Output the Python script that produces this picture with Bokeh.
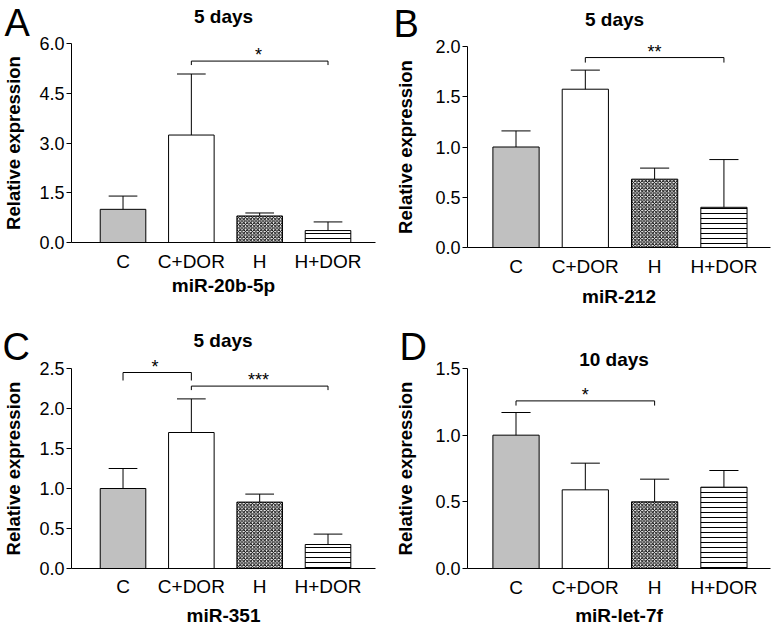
from bokeh.plotting import figure
from bokeh.models import FixedTicker, Range1d, PrintfTickFormatter, ColumnDataSource, GridBox
from bokeh.core.properties import value
from bokeh.layouts import row, column
from bokeh.embed import file_html
from bokeh.resources import INLINE

# ---------------- data ----------------
categories = ["C", "C+DOR", "H", "H+DOR"]
positions = [1, 2, 3, 4]
ylabel_text = "Relative expression"
panel_letters = ["A", "B", "C", "D"]
panel_titles = ["5 days", "5 days", "5 days", "10 days"]
panel_genes = ["miR-20b-5p", "miR-212", "miR-351", "miR-let-7f"]

# Panel A
a_mean = [1.00, 3.24, 0.80, 0.36]
a_sem = [0.40, 1.84, 0.09, 0.26]
a_yticks = [0.0, 1.5, 3.0, 4.5, 6.0]
a_sig_from = [2]
a_sig_to = [4]
a_sig_y = [5.47]
a_sig_drop = [0.12]
a_sig_text = ["*"]

# Panel B
b_mean = [1.00, 1.575, 0.68, 0.40]
b_sem = [0.16, 0.19, 0.11, 0.475]
b_yticks = [0.0, 0.5, 1.0, 1.5, 2.0]
b_sig_from = [2]
b_sig_to = [4]
b_sig_y = [1.89]
b_sig_drop = [0.05]
b_sig_text = ["**"]

# Panel C
c_mean = [1.00, 1.70, 0.83, 0.30]
c_sem = [0.25, 0.42, 0.10, 0.13]
c_yticks = [0.0, 0.5, 1.0, 1.5, 2.0, 2.5]
c_sig_from = [1, 2]
c_sig_to = [2, 4]
c_sig_y = [2.45, 2.28]
c_sig_drop = [0.10, 0.05]
c_sig_text = ["*", "***"]

# Panel D
d_mean = [1.00, 0.59, 0.50, 0.61]
d_sem = [0.17, 0.20, 0.17, 0.125]
d_yticks = [0.0, 0.5, 1.0, 1.5]
d_sig_from = [1]
d_sig_to = [3]
d_sig_y = [1.257]
d_sig_drop = [0.035]
d_sig_text = ["*"]

# ---------------- styles / layout ----------------
FONT = "Liberation Sans"
BAR_FILL = ["#c0c0c0", "white", "white", "white"]
BAR_HATCH = ["blank", "blank", "diagonal_cross", "horizontal_line"]
BAR_HATCH_SCALE = [1, 1, 3.5, 5]
BAR_WIDTH = 0.667
CAP_HALF = 0.21
TOTAL_W, TOTAL_H = 774, 629
STAR_LIFT = 6

# geometry per panel: origin on page, size, frame edges (figure px), x range
GEOM = [
    dict(ox=0, oy=0, W=388, H=314, fl=68, fr=375, ft=43, fb=242, x0=0.246, x1=4.695,
         ylab_so=12, xtick_so=8, xlab_so=0,
         title_xy=(223, 16), letter_xy=(4, 22)),
    dict(ox=388, oy=0, W=386, H=314, fl=79, fr=382, ft=46, fb=247, x0=0.30, x1=4.672,
         ylab_so=16, xtick_so=8, xlab_so=6,
         title_xy=(614, 19), letter_xy=(393, 23)),
    dict(ox=0, oy=314, W=388, H=315, fl=68, fr=375, ft=54, fb=254, x0=0.246, x1=4.695,
         ylab_so=12, xtick_so=7, xlab_so=5,
         title_xy=(222.5, 340), letter_xy=(2, 346)),
    dict(ox=388, oy=314, W=386, H=315, fl=79, fr=382, ft=54, fb=254, x0=0.30, x1=4.672,
         ylab_so=16, xtick_so=8, xlab_so=4,
         title_xy=(613.5, 359), letter_xy=(399, 346)),
]


def make_panel(g, gene, mean, sem, yticks, sf, st, sy, sd):
    ytop = yticks[-1]
    W, H, fl, fr, ft, fb = g["W"], g["H"], g["fl"], g["fr"], g["ft"], g["fb"]
    p = figure(width=W, height=H, x_range=Range1d(g["x0"], g["x1"]),
               y_range=Range1d(0, ytop),
               output_backend="svg", toolbar_location=None,
               min_border_left=fl, min_border_right=W - fr,
               min_border_top=ft, min_border_bottom=H - fb)
    p.title.visible = False
    p.outline_line_color = None
    p.xgrid.visible = False
    p.ygrid.visible = False
    p.background_fill_color = "white"
    p.border_fill_color = "white"

    src = ColumnDataSource(dict(x=positions, top=mean, fill=BAR_FILL,
                                hatch=BAR_HATCH, hscale=BAR_HATCH_SCALE))
    p.vbar(x="x", top="top", bottom=0, width=BAR_WIDTH, source=src,
           fill_color="fill", line_color="black", line_width=1,
           hatch_pattern="hatch", hatch_scale="hscale", hatch_color="black",
           hatch_weight=1)

    tops = [m + e for m, e in zip(mean, sem)]
    p.segment(x0=positions, y0=mean, x1=positions, y1=tops, line_color="black", line_width=1)
    p.segment(x0=[x - CAP_HALF for x in positions], y0=tops,
              x1=[x + CAP_HALF for x in positions], y1=tops,
              line_color="black", line_width=1)

    xs = [[a, a, b, b] for a, b in zip(sf, st)]
    ys = [[y - d, y, y, y - d] for y, d in zip(sy, sd)]
    p.multi_line(xs=xs, ys=ys, line_color="black", line_width=1)

    for ax in (p.xaxis[0], p.yaxis[0]):
        ax.axis_line_color = "black"
        ax.axis_line_width = 1
        ax.major_label_text_color = "black"
        ax.major_label_text_font = FONT
        ax.axis_label_text_font = FONT
        ax.axis_label_text_font_style = "bold"
        ax.axis_label_text_color = "black"
        ax.minor_tick_line_color = None

    p.yaxis.ticker = FixedTicker(ticks=yticks)
    p.yaxis.formatter = PrintfTickFormatter(format="%.1f")
    p.yaxis.major_label_text_font_size = "18px"
    p.yaxis.major_tick_out = 5
    p.yaxis.major_tick_in = 0
    p.yaxis.major_tick_line_color = "black"
    p.yaxis.major_label_standoff = 2
    p.yaxis.axis_label = ylabel_text
    p.yaxis.axis_label_text_font_size = "18.5px"
    p.yaxis.axis_label_standoff = g["ylab_so"]

    p.xaxis.ticker = FixedTicker(ticks=positions)
    p.xaxis.major_label_overrides = {x: c for x, c in zip(positions, categories)}
    p.xaxis.major_label_text_font_size = "19px"
    p.xaxis.major_tick_out = 0
    p.xaxis.major_tick_in = 0
    p.xaxis.major_tick_line_color = None
    p.xaxis.major_label_standoff = g["xtick_so"]
    p.xaxis.axis_label = gene
    p.xaxis.axis_label_text_font_size = "19px"
    p.xaxis.axis_label_standoff = g["xlab_so"]
    return p


def page_xy(g, ytop, xv, yv):
    px = g["ox"] + g["fl"] + (xv - g["x0"]) / (g["x1"] - g["x0"]) * (g["fr"] - g["fl"])
    py = g["oy"] + g["fb"] - yv / ytop * (g["fb"] - g["ft"])
    return px, py


panels_data = [
    (a_mean, a_sem, a_yticks, a_sig_from, a_sig_to, a_sig_y, a_sig_drop, a_sig_text),
    (b_mean, b_sem, b_yticks, b_sig_from, b_sig_to, b_sig_y, b_sig_drop, b_sig_text),
    (c_mean, c_sem, c_yticks, c_sig_from, c_sig_to, c_sig_y, c_sig_drop, c_sig_text),
    (d_mean, d_sem, d_yticks, d_sig_from, d_sig_to, d_sig_y, d_sig_drop, d_sig_text),
]

figs = []
star_x, star_y, star_t = [], [], []
for g, gene, (mean, sem, yt, sf, st, sy, sd, stx) in zip(GEOM, panel_genes, panels_data):
    figs.append(make_panel(g, gene, mean, sem, yt, sf, st, sy, sd))
    for a, b, y, t in zip(sf, st, sy, stx):
        px, py = page_xy(g, yt[-1], (a + b) / 2, y)
        star_x.append(px)
        star_y.append(py - STAR_LIFT)
        star_t.append(t)

# transparent overlay carrying the texts that sit outside the plot frames
ov = figure(width=TOTAL_W, height=TOTAL_H, x_range=Range1d(0, TOTAL_W),
            y_range=Range1d(TOTAL_H, 0), output_backend="svg", toolbar_location=None,
            x_axis_location=None, y_axis_location=None, min_border=0)
ov.title.visible = False
ov.outline_line_color = None
ov.xgrid.visible = False
ov.ygrid.visible = False
ov.background_fill_color = None
ov.border_fill_color = None

ov.text(x=[g["title_xy"][0] for g in GEOM], y=[g["title_xy"][1] for g in GEOM],
        text=panel_titles, text_font=value(FONT), text_font_size="19px",
        text_font_style="bold", text_align="center", text_baseline="alphabetic",
        text_color="black")
ov.text(x=[g["letter_xy"][0] for g in GEOM], y=[g["letter_xy"][1] for g in GEOM],
        text=panel_letters, text_font=value(FONT), text_font_size="38px",
        text_align="left", text_baseline="alphabetic", text_color="black")
ov.text(x=star_x, y=star_y, text=star_t, text_font=value(FONT), text_font_size="18px",
        text_align="center", text_baseline="alphabetic", text_color="black")

# columns (not rows) so that the left/right panels keep their own vertical frames
main = row(column(figs[0], figs[2]), column(figs[1], figs[3]))
layout = GridBox(children=[(main, 0, 0), (ov, 0, 0)])
open("out.html", "w").write(file_html(layout, INLINE))
